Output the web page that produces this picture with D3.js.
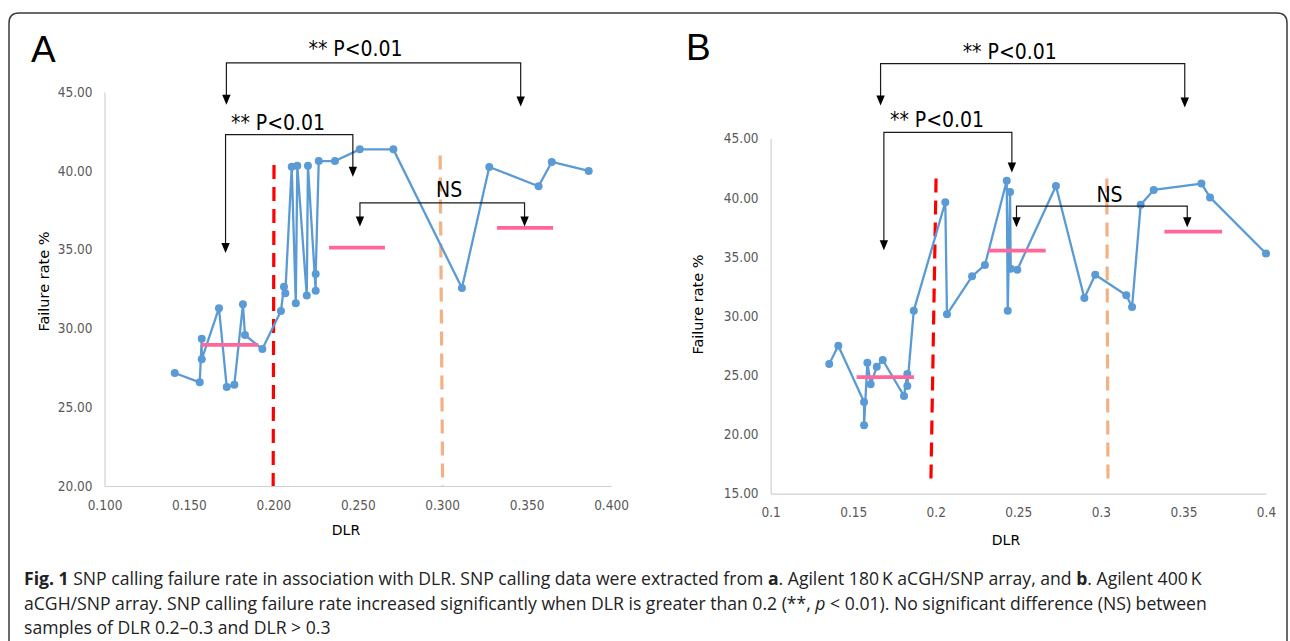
<!DOCTYPE html>
<html>
<head>
<meta charset="utf-8">
<script src="https://cdn.jsdelivr.net/npm/d3@7"></script>
<style>
  body { margin: 0; background: #fff; }
  svg { display: block; }
</style>
</head>
<body>
<div id="fig"></div>
<script>
// ---- panel A : Agilent 180 K aCGH/SNP array ----
const dlrA = [0.1416, 0.1564, 0.1576, 0.1576, 0.1678, 0.1724, 0.1769, 0.1820, 0.1832, 0.1935,
    0.2045, 0.2063, 0.2071, 0.2109, 0.2133, 0.2142, 0.2198, 0.2205, 0.2251, 0.2251,
    0.2269, 0.2365, 0.2512, 0.2711, 0.3117, 0.3279, 0.3571, 0.3649, 0.3868];
const failA = [27.17, 26.58, 29.35, 28.04, 31.28, 26.28, 26.43, 31.53, 29.58, 28.69,
    31.10, 32.65, 32.23, 40.26, 31.59, 40.32, 32.08, 40.32, 32.39, 33.45,
    40.62, 40.62, 41.36, 41.36, 32.56, 40.24, 39.02, 40.56, 39.99];
const xTicksA = [0.1, 0.15, 0.2, 0.25, 0.3, 0.35, 0.4];
const yTicksA = [20, 25, 30, 35, 40, 45];
// group means: [from DLR, to DLR, failure rate]
const meansA = [[0.1576, 0.1911, 28.95], [0.2330, 0.2661, 35.12], [0.3325, 0.3657, 36.38]];
// DLR cut-offs: [x top, x bottom, y top, y bottom]
const cutsA = [[0.2004, 0.1999, 40.37, 20], [0.2988, 0.3003, 40.97, 20]];
// brackets: [x left, x right, y bar, left arrow tip, right arrow tip]
const bracketsA = [[0.1722, 0.3465, 46.85, 44.19, 44.08], [0.1717, 0.2471, 42.30, 34.79, 39.62],
    [0.2513, 0.3488, 37.97, 36.47, 36.47]];
const bracketLabelsA = [['** P<0.01', 0.2487, 47.30], ['** P<0.01', 0.2028, 42.62], ['NS', 0.3041, 38.34]];

// ---- panel B : Agilent 400 K aCGH/SNP array ----
const dlrB = [0.1355, 0.1410, 0.1566, 0.1566, 0.1586, 0.1606, 0.1643, 0.1679, 0.1808, 0.1828,
    0.1828, 0.1867, 0.2058, 0.2068, 0.2220, 0.2298, 0.2430, 0.2436, 0.2450, 0.2454,
    0.2494, 0.2728, 0.2900, 0.2966, 0.3154, 0.3189, 0.3241, 0.3320, 0.3609, 0.3661, 0.4000];
const failB = [25.95, 27.50, 22.74, 20.77, 26.06, 24.24, 25.72, 26.29, 23.25, 25.11,
    24.09, 30.46, 39.62, 30.15, 33.36, 34.32, 41.44, 30.46, 40.49, 34.01,
    33.92, 40.99, 31.53, 33.50, 31.76, 30.77, 39.40, 40.66, 41.20, 40.03, 35.29];
const xTicksB = [0.1, 0.15, 0.2, 0.25, 0.3, 0.35, 0.4];
const yTicksB = [15, 20, 25, 30, 35, 40, 45];
const meansB = [[0.1521, 0.1868, 24.85], [0.2318, 0.2666, 35.53], [0.3385, 0.3734, 37.14]];
const cutsB = [[0.2002, 0.1971, 41.63, 16.23], [0.3036, 0.3043, 41.63, 16.0]];
const bracketsB = [[0.1666, 0.3508, 51.34, 47.80, 47.63], [0.1686, 0.2461, 45.52, 35.57, 42.14],
    [0.2489, 0.3523, 39.29, 37.51, 37.51]];
const bracketLabelsB = [['** P<0.01', 0.2448, 51.73], ['** P<0.01', 0.2008, 46.0], ['NS', 0.3052, 39.64]];

const narrowFont = '"Liberation Sans Narrow", "DejaVu Sans Condensed", sans-serif';
const cutColors = ['#ff0000', '#f4b183'];

const svg = d3.select('#fig')
    .append('svg')
    .attr('width', 1290)
    .attr('height', 641);

// figure frame (open at the bottom, as in the page crop)
svg.append('path')
    .attr('d', 'M9,641 V23 Q9,13 19,13 H1277 Q1287,13 1287,23 V641')
    .attr('fill', 'none')
    .attr('stroke', '#3a3a3a')
    .attr('stroke-width', 1.5);

function drawPanel(cfg) {
    const x = d3.scaleLinear().domain(cfg.xDomain).range([cfg.left, cfg.right]);
    const y = d3.scaleLinear().domain(cfg.yDomain).range([cfg.bottom, cfg.top]);
    const g = svg.append('g');

    // axes, no tick marks, light grey lines
    const xAxis = g.append('g')
        .attr('transform', `translate(0,${cfg.bottom})`)
        .call(d3.axisBottom(x).tickValues(cfg.xTicks).tickFormat(cfg.xFormat)
            .tickSize(0).tickSizeOuter(0).tickPadding(14));
    const yAxis = g.append('g')
        .attr('transform', `translate(${cfg.left},0)`)
        .call(d3.axisLeft(y).tickValues(cfg.yTicks).tickFormat(d3.format('.2f'))
            .tickSize(0).tickSizeOuter(0).tickPadding(12));
    [xAxis, yAxis].forEach(a => {
        a.select('.domain').attr('stroke', '#d0d0d0').attr('stroke-width', 1.2);
        a.selectAll('text')
            .style('font-family', narrowFont)
            .style('font-size', '13.5px')
            .attr('fill', '#595959');
    });

    // axis titles
    g.append('text')
        .attr('transform', `translate(${cfg.yTitle[0]},${cfg.yTitle[1]}) rotate(-90)`)
        .attr('text-anchor', 'middle')
        .attr('dy', '0.35em')
        .style('font-family', 'DejaVu Sans, sans-serif')
        .style('font-size', '14.5px')
        .text('Failure rate %');
    g.append('text')
        .attr('x', cfg.xTitle[0])
        .attr('y', cfg.xTitle[1])
        .attr('text-anchor', 'middle')
        .attr('dy', '0.35em')
        .style('font-family', 'DejaVu Sans, sans-serif')
        .style('font-size', '14px')
        .text('DLR');

    // DLR cut-off lines
    g.selectAll('.cut')
        .data(cfg.cuts)
        .join('line')
        .attr('class', 'cut')
        .attr('x1', d => x(d[0]))
        .attr('x2', d => x(d[1]))
        .attr('y1', d => y(d[2]))
        .attr('y2', d => y(d[3]))
        .attr('stroke', (d, i) => cutColors[i])
        .attr('stroke-width', 3.2)
        .attr('stroke-dasharray', '14,8');

    // series line + markers
    const pts = d3.zip(cfg.dlr, cfg.fail);
    g.append('path')
        .datum(pts)
        .attr('fill', 'none')
        .attr('stroke', '#5b9bd5')
        .attr('stroke-width', 2.3)
        .attr('stroke-linejoin', 'round')
        .attr('d', d3.line().x(d => x(d[0])).y(d => y(d[1])));
    g.selectAll('.pt')
        .data(pts)
        .join('circle')
        .attr('class', 'pt')
        .attr('cx', d => x(d[0]))
        .attr('cy', d => y(d[1]))
        .attr('r', 4)
        .attr('fill', '#5b9bd5');

    // group means
    g.selectAll('.mean')
        .data(cfg.means)
        .join('line')
        .attr('class', 'mean')
        .attr('x1', d => x(d[0]))
        .attr('x2', d => x(d[1]))
        .attr('y1', d => y(d[2]))
        .attr('y2', d => y(d[2]))
        .attr('stroke', '#ff6699')
        .attr('stroke-width', 3.8);

    // significance brackets
    const ah = 10, aw = 4.2;
    g.selectAll('.bracket')
        .data(cfg.brackets)
        .join('path')
        .attr('class', 'bracket')
        .attr('fill', 'none')
        .attr('stroke', '#1a1a1a')
        .attr('stroke-width', 1.2)
        .attr('d', d => `M${x(d[0])},${y(d[3]) - ah + 1}V${y(d[2])}H${x(d[1])}V${y(d[4]) - ah + 1}`);
    const tips = cfg.brackets.flatMap(d => [[d[0], d[3]], [d[1], d[4]]]);
    g.selectAll('.tip')
        .data(tips)
        .join('path')
        .attr('class', 'tip')
        .attr('fill', '#000')
        .attr('d', d => {
            const tx = x(d[0]), ty = y(d[1]);
            return `M${tx - aw},${ty - ah}L${tx + aw},${ty - ah}L${tx},${ty}Z`;
        });
    g.selectAll('.blabel')
        .data(cfg.bracketLabels)
        .join('text')
        .attr('class', 'blabel')
        .attr('x', d => x(d[1]))
        .attr('y', d => y(d[2]))
        .attr('text-anchor', 'middle')
        .style('font-family', narrowFont)
        .style('font-size', '21px')
        .text(d => d[0]);

    // panel letter
    g.append('text')
        .attr('x', cfg.letter[1])
        .attr('y', cfg.letter[2])
        .style('font-family', 'Liberation Sans, Arial, sans-serif')
        .style('font-size', '37px')
        .text(cfg.letter[0]);
}

drawPanel({
    dlr: dlrA, fail: failA, means: meansA, cuts: cutsA,
    brackets: bracketsA, bracketLabels: bracketLabelsA,
    xDomain: [0.1, 0.4], yDomain: [20, 45],
    xTicks: xTicksA, yTicks: yTicksA, xFormat: d3.format('.3f'),
    left: 104.5, right: 611, top: 92, bottom: 486,
    yTitle: [43.5, 281.5], xTitle: [346, 530],
    letter: ['A', 31, 61.5]
});

drawPanel({
    dlr: dlrB, fail: failB, means: meansB, cuts: cutsB,
    brackets: bracketsB, bracketLabels: bracketLabelsB,
    xDomain: [0.1, 0.4], yDomain: [15, 45],
    xTicks: xTicksB, yTicks: yTicksB, xFormat: d => String(+d.toFixed(2)),
    left: 770.6, right: 1266, top: 138.6, bottom: 493.6,
    yTitle: [698, 304.5], xTitle: [1006, 540],
    letter: ['B', 686, 60]
});

// caption
const captionLines = [
    [['Fig. 1', 'b'], [' SNP calling failure rate in association with DLR. SNP calling data were extracted from ', ''],
        ['a', 'b'], ['. Agilent 180\u2009K aCGH/SNP array, and ', ''], ['b', 'b'], ['. Agilent 400\u2009K', '']],
    [['aCGH/SNP array. SNP calling failure rate increased significantly when DLR is greater than 0.2 (**, ', ''],
        ['p', 'i'], [' < 0.01). No significant difference (NS) between', '']],
    [['samples of DLR 0.2\u20130.3 and DLR > 0.3', '']]
];
const caption = svg.append('g')
    .style('font-family', '"Open Sans", sans-serif')
    .style('font-size', '17.6px')
    .attr('fill', '#222');
captionLines.forEach((line, i) => {
    const t = caption.append('text')
        .attr('x', 24)
        .attr('y', 585 + i * 24.5);
    line.forEach(([s, st]) => {
        t.append('tspan')
            .attr('font-weight', st === 'b' ? 'bold' : null)
            .attr('font-style', st === 'i' ? 'italic' : null)
            .text(s);
    });
});
</script>
</body>
</html>
